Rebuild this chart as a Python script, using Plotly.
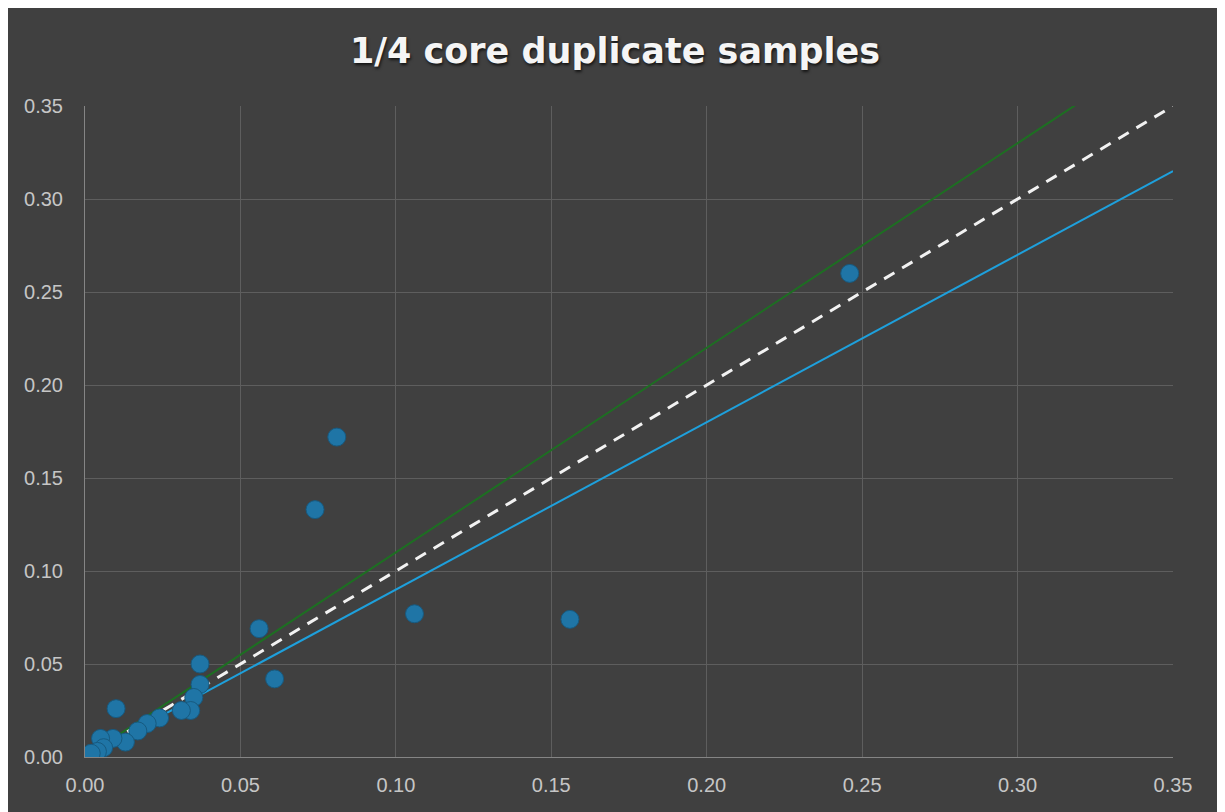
import plotly.graph_objects as go

# Sample data (original vs duplicate)
orig = [0.246, 0.081, 0.074, 0.106, 0.156, 0.056, 0.061, 0.037, 0.037, 0.035,
        0.034, 0.031, 0.024, 0.020, 0.017, 0.013, 0.010, 0.009, 0.005, 0.006,
        0.004, 0.002]
dup = [0.260, 0.172, 0.133, 0.077, 0.074, 0.069, 0.042, 0.050, 0.039, 0.032,
       0.025, 0.025, 0.021, 0.018, 0.014, 0.008, 0.026, 0.010, 0.010, 0.005,
       0.003, 0.002]

ref_x = [0.002, 0.35]
line_1to1 = [0.002, 0.35]
line_plus10 = [0.0022, 0.385]
line_minus10 = [0.0018, 0.315]

tick_vals = [0, 0.05, 0.10, 0.15, 0.20, 0.25, 0.30, 0.35]
tick_text = ["0.00", "0.05", "0.10", "0.15", "0.20", "0.25", "0.30", "0.35"]

BG = "#404040"

fig = go.Figure()
fig.add_trace(go.Scatter(x=ref_x, y=line_plus10, mode="lines",
                         line=dict(color="#1d6f22", width=2), hoverinfo="skip"))
fig.add_trace(go.Scatter(x=ref_x, y=line_minus10, mode="lines",
                         line=dict(color="#1ea0dc", width=2), hoverinfo="skip"))
fig.add_trace(go.Scatter(x=ref_x, y=line_1to1, mode="lines",
                         line=dict(color="#f2f2f2", width=3, dash="12px,9px"),
                         hoverinfo="skip"))
fig.add_trace(go.Scatter(x=orig, y=dup, mode="markers",
                         marker=dict(size=18, color="#1f75a6",
                                     line=dict(color="#175a80", width=1))))

W, H = 1214, 804
fig.update_layout(
    width=W, height=H,
    paper_bgcolor=BG,
    plot_bgcolor=BG,
    showlegend=False,
    margin=dict(l=77, r=49, t=98, b=55),
    title=dict(text="1/4 core duplicate samples", x=0.5, xanchor="center",
               y=1 - 43 / H, yanchor="middle",
               font=dict(family="DejaVu Sans", size=35, color="#f5f5f5",
                         weight="bold", shadow="1px 2px 3px rgba(0,0,0,0.7)")),
)
axis_common = dict(
    range=[0, 0.35], tickvals=tick_vals, ticktext=tick_text,
    showgrid=True, gridcolor="#5e5e5e", gridwidth=1,
    zeroline=False, showline=True, linecolor="#858585", linewidth=1,
    tickfont=dict(family="Liberation Sans", size=20, color="#c6c6c6"),
    ticks="",
)
fig.update_xaxes(**axis_common, ticklabelstandoff=10)
fig.update_yaxes(**axis_common, ticklabelstandoff=17)

fig.write_html("out.html")
